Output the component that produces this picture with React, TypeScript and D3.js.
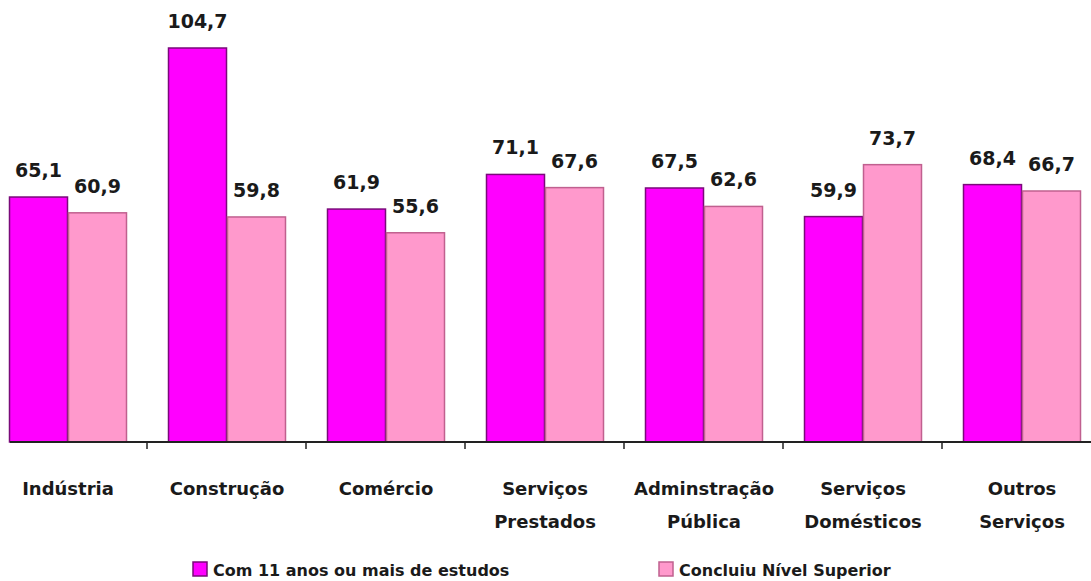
import React, { useEffect, useRef } from "react";
import * as d3 from "d3";

const categories = [
  "Indústria",
  "Construção",
  "Comércio",
  "Serviços\nPrestados",
  "Adminstração\nPública",
  "Serviços\nDomésticos",
  "Outros\nServiços",
];
const seriesNames = ["Com 11 anos ou mais de estudos", "Concluiu Nível Superior"];
const com11 = [65.1, 104.7, 61.9, 71.1, 67.5, 59.9, 68.4];
const superior = [60.9, 59.8, 55.6, 67.6, 62.6, 73.7, 66.7];

const fills = ["#ff00ff", "#ff99cc"];
const strokes = ["#7a0a7a", "#c0608f"];

const App = () => {
  const ref = useRef<SVGSVGElement>(null);

  useEffect(() => {
    const svg = d3.select(ref.current);
    svg.selectAll("*").remove();

    const width = 1091, height = 581;
    const baseY = 442;
    const font = "'DejaVu Sans', Verdana, sans-serif";

    svg.attr("width", width).attr("height", height);

    const x0 = d3.scaleBand().domain(categories).range([-12, 1101]).padding(0);
    const x1 = d3.scaleBand().domain(seriesNames).range([21, 139]).padding(0);
    const y = d3.scaleLinear().domain([0, 104.7]).range([baseY, 48]);

    const rows = categories.map((c, i) => ({ cat: c, values: [com11[i], superior[i]] }));

    const g = svg.append("g");

    const groups = g.selectAll("g.grp").data(rows).join("g")
      .attr("transform", d => `translate(${x0(d.cat)},0)`);

    groups.selectAll("rect")
      .data(d => d.values.map((v, k) => ({ key: seriesNames[k], k, v })))
      .join("rect")
      .attr("x", d => x1(d.key)! + 0.5)
      .attr("y", d => y(d.v))
      .attr("width", x1.bandwidth() - 1)
      .attr("height", d => baseY - y(d.v))
      .attr("fill", d => fills[d.k])
      .attr("stroke", d => strokes[d.k])
      .attr("stroke-width", 1.5);

    groups.selectAll("text.val")
      .data(d => d.values.map((v, k) => ({ key: seriesNames[k], k, v })))
      .join("text")
      .attr("class", "val")
      .attr("x", d => x1(d.key)! + x1.bandwidth() / 2)
      .attr("y", d => y(d.v) - 20)
      .attr("text-anchor", "middle")
      .attr("font-family", font)
      .attr("font-weight", "bold")
      .attr("font-size", "19px")
      .attr("fill", "#1a1a1a")
      .text(d => d.v.toFixed(1).replace(".", ","));

    // axis
    g.append("line")
      .attr("x1", 10).attr("x2", width)
      .attr("y1", baseY).attr("y2", baseY)
      .attr("stroke", "#222").attr("stroke-width", 2);

    categories.slice(1).forEach(c => {
      const tx = x0(c)!;
      g.append("line")
        .attr("x1", tx).attr("x2", tx)
        .attr("y1", baseY).attr("y2", baseY + 7)
        .attr("stroke", "#222").attr("stroke-width", 1.5);
    });

    categories.forEach(c => {
      const lines = c.split("\n");
      const t = g.append("text")
        .attr("x", x0(c)! + 80)
        .attr("y", 495)
        .attr("text-anchor", "middle")
        .attr("font-family", font)
        .attr("font-weight", "bold")
        .attr("font-size", "18px")
        .attr("fill", "#1a1a1a");
      lines.forEach((ln, i) => {
        t.append("tspan")
          .attr("x", x0(c)! + 80)
          .attr("dy", i === 0 ? 0 : 33)
          .text(ln);
      });
    });

    // legend
    const legendX = [193, 659];
    seriesNames.forEach((s, k) => {
      g.append("rect")
        .attr("x", legendX[k]).attr("y", 562)
        .attr("width", 14).attr("height", 14)
        .attr("fill", fills[k]).attr("stroke", strokes[k]).attr("stroke-width", 1.5);
      g.append("text")
        .attr("x", legendX[k] + 20).attr("y", 576)
        .attr("font-family", font)
        .attr("font-weight", "bold")
        .attr("font-size", "16px")
        .attr("fill", "#1a1a1a")
        .text(s);
    });
  }, []);

  return <svg ref={ref} style={{ position: "absolute", left: 0, top: 0 }} />;
};

export default App;
